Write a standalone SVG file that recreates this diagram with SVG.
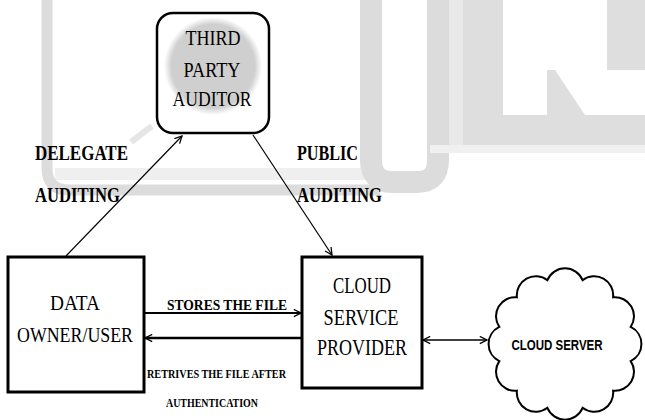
<svg xmlns="http://www.w3.org/2000/svg" width="645" height="420" viewBox="0 0 645 420">
<style>
.box{fill:#fff;stroke:#000;stroke-width:3}
.serif{font-family:"Liberation Serif","Times New Roman",serif;fill:#000}
.b{font-weight:bold}
.c{text-anchor:middle}
.ln{fill:none;stroke:#000}
</style>
<defs>
<marker id="arr" viewBox="0 0 10 10" refX="9" refY="5" markerWidth="9" markerHeight="9" orient="auto-start-reverse" markerUnits="userSpaceOnUse">
<path d="M1,1 L9,5 L1,9" fill="none" stroke="#000" stroke-width="1.4"/>
</marker>
<radialGradient id="tpaGlow" cx="0.5" cy="0.5" r="0.5">
<stop offset="0.85" stop-color="#cfcfcf"/>
<stop offset="1" stop-color="#cfcfcf" stop-opacity="0"/>
</radialGradient>
</defs>
<rect width="645" height="420" fill="#fff"/>
<g id="watermark">
<rect x="55" y="168" width="320" height="12" fill="#efefef"/>
<path d="M47,0 V168 Q47,190 69,190 H380" fill="none" stroke="#dcdcdc" stroke-width="11"/>
<path d="M371,0 V160 Q371,182 393,182 H417 Q438,182 438,160 V0" fill="none" stroke="#dcdcdc" stroke-width="22"/>
<rect x="449" y="0" width="196" height="148" fill="#dedede"/>
<rect x="449" y="0" width="14" height="148" fill="#e9e9e9"/>
<rect x="430" y="145" width="215" height="8" fill="#f0f0f0"/>
<path d="M503,0 H607 V70 H645 V115 H585 L555,70 H547 V115 H503 Z" fill="#fff"/>
<path d="M131,142 L152,126" stroke="#e6e6e6" stroke-width="6"/>
</g>
<g id="connectors">
<line class="ln" x1="66" y1="256" x2="182" y2="136" stroke-width="1.2" marker-end="url(#arr)"/>
<line class="ln" x1="253" y1="135" x2="332" y2="255" stroke-width="1.2" marker-end="url(#arr)"/>
<line class="ln" x1="145" y1="313" x2="301" y2="313" stroke-width="2" marker-end="url(#arr)"/>
<line class="ln" x1="301" y1="338" x2="145" y2="338" stroke-width="2.5" marker-end="url(#arr)"/>
<line class="ln" x1="423" y1="340" x2="487" y2="340" stroke-width="1.5" marker-start="url(#arr)" marker-end="url(#arr)"/>
</g>
<g id="tpa">
<rect x="157" y="13" width="112" height="120" rx="16" ry="16" fill="#fff" stroke="#000" stroke-width="2.5"/>
<circle cx="213" cy="66" r="49" fill="url(#tpaGlow)"/>
<text class="serif c" x="213" y="45" font-size="21" textLength="55" lengthAdjust="spacingAndGlyphs">THIRD</text>
<text class="serif c" x="212" y="77" font-size="21" textLength="57" lengthAdjust="spacingAndGlyphs">PARTY</text>
<text class="serif c" x="212" y="106" font-size="21" textLength="79" lengthAdjust="spacingAndGlyphs">AUDITOR</text>
</g>
<g id="labels">
<text class="serif b" x="35" y="160" font-size="21" textLength="93" lengthAdjust="spacingAndGlyphs">DELEGATE</text>
<text class="serif b" x="35" y="202" font-size="21" textLength="85" lengthAdjust="spacingAndGlyphs">AUDITING</text>
<text class="serif b" x="297" y="160" font-size="21" textLength="61" lengthAdjust="spacingAndGlyphs">PUBLIC</text>
<text class="serif b" x="297" y="202" font-size="21" textLength="85" lengthAdjust="spacingAndGlyphs">AUDITING</text>
<text class="serif b" x="167" y="310" font-size="15" textLength="120" lengthAdjust="spacingAndGlyphs">STORES THE FILE</text>
<text class="serif b" x="147" y="378" font-size="13" textLength="139" lengthAdjust="spacingAndGlyphs">RETRIVES THE FILE AFTER</text>
<text class="serif b" x="166" y="407" font-size="12" textLength="92" lengthAdjust="spacingAndGlyphs">AUTHENTICATION</text>
</g>
<g id="owner">
<rect class="box" x="8" y="257" width="136" height="135"/>
<text class="serif c" x="75" y="310" font-size="22" textLength="50" lengthAdjust="spacingAndGlyphs">DATA</text>
<text class="serif c" x="75" y="342" font-size="22" textLength="116" lengthAdjust="spacingAndGlyphs">OWNER/USER</text>
</g>
<g id="csp">
<rect class="box" x="302" y="257" width="120" height="131"/>
<text class="serif c" x="362" y="293" font-size="23" textLength="58" lengthAdjust="spacingAndGlyphs">CLOUD</text>
<text class="serif c" x="361" y="325" font-size="23" textLength="75" lengthAdjust="spacingAndGlyphs">SERVICE</text>
<text class="serif c" x="362" y="355" font-size="23" textLength="90" lengthAdjust="spacingAndGlyphs">PROVIDER</text>
</g>
<g id="cloud">
<path d="M499.3,361.1 A19,19 0 0 1 499.3,326.9 A19,19 0 0 1 516.9,297.3 A19,19 0 0 1 547.4,280.2 A19,19 0 0 1 582.6,280.2 A19,19 0 0 1 613.1,297.3 A19,19 0 0 1 630.7,326.9 A19,19 0 0 1 630.7,361.1 A19,19 0 0 1 613.1,390.7 A19,19 0 0 1 582.6,407.8 A19,19 0 0 1 547.4,407.8 A19,19 0 0 1 516.9,390.7 A19,19 0 0 1 499.3,361.1 Z" fill="#fff" stroke="#000" stroke-width="2"/>
<text x="557" y="350" text-anchor="middle" font-family="Liberation Sans, Arial, sans-serif" font-weight="bold" font-size="15" textLength="91" lengthAdjust="spacingAndGlyphs" fill="#000">CLOUD SERVER</text>
</g>
</svg>
